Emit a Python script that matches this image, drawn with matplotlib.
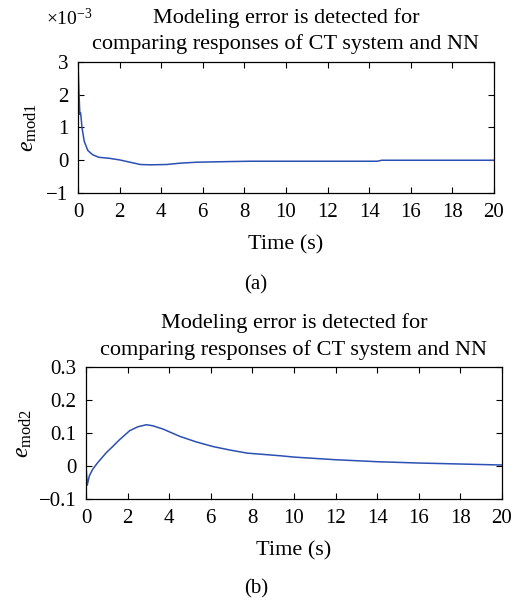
import matplotlib
matplotlib.use('Agg')
import matplotlib.pyplot as plt
import numpy as np

# Panel (a): modeling error e_mod1, values in units of 1e-3
t_a = [0, 0.05, 0.09, 0.12, 0.15, 0.19, 0.3, 0.47, 0.7, 1.0, 1.5, 2.0, 2.5,
       3.0, 3.5, 4.25, 4.9, 5.7, 7.3, 8.3, 10, 12, 14.4, 14.6, 16, 18, 20]
e_mod1 = [3.0, 2.0, 1.4, 1.45, 1.3, 1.0, 0.58, 0.30, 0.17, 0.09, 0.06, 0.01, -0.06,
          -0.13, -0.14, -0.13, -0.09, -0.06, -0.04, -0.03, -0.03, -0.03, -0.03,
          0.0, 0.0, 0.0, 0.0]

# Panel (b): modeling error e_mod2
t_b = [0, 0.06, 0.16, 0.32, 0.56, 0.97, 1.3, 1.6, 2.1, 2.5, 2.9, 3.2, 3.7,
       4.5, 5.3, 6.1, 6.95, 7.75, 9.35, 10, 12, 14, 16, 18, 20]
e_mod2 = [0.0, -0.058, -0.03, -0.01, 0.01, 0.04, 0.06, 0.079, 0.107, 0.119,
          0.125, 0.122, 0.112, 0.09, 0.073, 0.059, 0.048, 0.039, 0.031, 0.027,
          0.019, 0.013, 0.009, 0.006, 0.003]

x_ticks = list(range(0, 21, 2))
y_ticks_a = [-1, 0, 1, 2, 3]
y_ticks_b = [-0.1, 0, 0.1, 0.2, 0.3]

title = 'Modeling error is detected for\ncomparing responses of CT system and NN'

plt.rcParams['font.family'] = 'Liberation Serif'
plt.rcParams['mathtext.fontset'] = 'custom'
plt.rcParams['mathtext.rm'] = 'Liberation Serif'
plt.rcParams['mathtext.it'] = 'Liberation Serif:italic'
plt.rcParams['axes.unicode_minus'] = True

line_color = '#2b4fb3'

fig = plt.figure(figsize=(5.12, 6.02), dpi=100)
ax1 = fig.add_axes([78/512, 1 - 193/602, 416/512, 131/602])
ax2 = fig.add_axes([86/512, 1 - 499/602, 416/512, 132/602])


def style_axes(ax):
    ax.tick_params(direction='in', top=True, right=True, length=4, width=0.8,
                   labelsize=15)
    ax.tick_params(axis='x', pad=7)
    ax.tick_params(axis='y', pad=7)
    for sp in ax.spines.values():
        sp.set_linewidth(0.9)
    ax.set_xlim(0, 20)
    ax.set_xticks(x_ticks)
    ax.set_title(title, fontsize=16, linespacing=1.45, pad=9)
    ax.set_xlabel('Time (s)', fontsize=16, labelpad=10)


ax1.plot(t_a, e_mod1, color=line_color, lw=1.1)
style_axes(ax1)
ax1.set_ylim(-1, 3)
ax1.set_yticks(y_ticks_a)
ax1.set_yticklabels(['\u22121', '0', '1', '2', '3'])
ax1.set_ylabel(r'$e_{\mathrm{mod1}}$', fontsize=17, labelpad=5)
# multiplier for the y axis of panel (a)
fig.text(69/512, 1 - 18/602, r'$\times10^{-3}$', fontsize=14, ha='center', va='center')
fig.text(0.5, 1 - 285/602, '(a)', fontsize=15, ha='center', va='center')

ax2.plot(t_b, e_mod2, color=line_color, lw=1.1)
style_axes(ax2)
ax2.set_ylim(-0.1, 0.3)
ax2.set_yticks(y_ticks_b)
ax2.set_yticklabels(['\u22120.1', '0', '0.1', '0.2', '0.3'])
ax2.set_ylabel(r'$e_{\mathrm{mod2}}$', fontsize=17, labelpad=3)
fig.text(0.5, 1 - 589/602, '(b)', fontsize=15, ha='center', va='center')

plt.savefig('out.png', dpi=100)
